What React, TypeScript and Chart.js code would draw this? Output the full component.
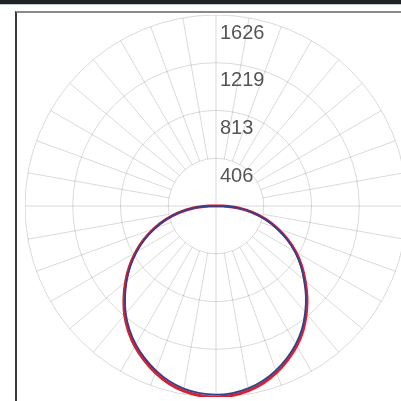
import React, { useEffect, useRef } from "react";
import { Chart, registerables } from "chart.js";

Chart.register(...registerables);

// gamma angles (deg from nadir) for each half-plane, 5 deg steps
const gammaAngles = [
  0, 5, 10, 15, 20, 25, 30, 35, 40, 45, 50, 55, 60, 65, 70, 75, 80, 85, 90,
  95, 100, 105, 110, 115, 120, 125, 130, 135, 140, 145, 150, 155, 160, 165, 170, 175, 180,
];
// red series: C0 (right half) and C180 (left half), cd
const redC0 = [
  1626, 1618, 1596, 1560, 1508, 1445, 1375, 1292, 1195, 1095, 990, 890, 785, 672, 555, 438, 315, 190, 60,
  10, 0, 0, 0, 0, 0, 0, 0, 0, 0, 0, 0, 0, 0, 0, 0, 0, 0,
];
const redC180 = [
  1626, 1619, 1598, 1562, 1510, 1448, 1380, 1300, 1210, 1108, 1005, 900, 790, 678, 560, 442, 320, 192, 60,
  10, 0, 0, 0, 0, 0, 0, 0, 0, 0, 0, 0, 0, 0, 0, 0, 0, 0,
];
// blue series: C90 (right half) and C270 (left half), cd
const blueC90 = [
  1606, 1599, 1577, 1541, 1490, 1428, 1358, 1277, 1181, 1082, 978, 879, 776, 664, 548, 433, 311, 188, 59,
  10, 0, 0, 0, 0, 0, 0, 0, 0, 0, 0, 0, 0, 0, 0, 0, 0, 0,
];
const blueC270 = [
  1606, 1600, 1579, 1543, 1492, 1431, 1363, 1284, 1195, 1095, 993, 889, 781, 670, 553, 437, 316, 190, 59,
  10, 0, 0, 0, 0, 0, 0, 0, 0, 0, 0, 0, 0, 0, 0, 0, 0, 0,
];
// tick labels
const tickValues = [406.5, 813, 1219.5, 1626];
const tickLabels = ["406", "813", "1219", "1626"];
const scaleMax = 1626;

// position angles clockwise from top, 5 deg steps
const positionAngles = Array.from({ length: 72 }, (_, i) => i * 5);

function buildRing(right: number[], left: number[]): number[] {
  return positionAngles.map((phi) => {
    if (phi <= 180) {
      return right[gammaAngles.indexOf(180 - phi)];
    }
    return left[gammaAngles.indexOf(phi - 180)];
  });
}

const gridPlugin = {
  id: "photoGrid",
  beforeDatasetsDraw(chart: any) {
    const s = chart.scales.r;
    const ctx = chart.ctx;
    const inner = s.getDistanceFromCenterForValue(tickValues[0]);
    const outer = s.getDistanceFromCenterForValue(scaleMax);
    ctx.save();
    ctx.strokeStyle = "rgba(0,0,0,0.15)";
    ctx.lineWidth = 1;
    for (let a = 0; a < 360; a += 10) {
      const rad = (a * Math.PI) / 180;
      const start = a % 90 === 0 ? 0 : inner;
      ctx.beginPath();
      ctx.moveTo(s.xCenter + Math.sin(rad) * start, s.yCenter - Math.cos(rad) * start);
      ctx.lineTo(s.xCenter + Math.sin(rad) * outer, s.yCenter - Math.cos(rad) * outer);
      ctx.stroke();
    }
    ctx.fillStyle = "#555";
    ctx.font = '20px "Liberation Sans", Arial, sans-serif';
    ctx.textAlign = "left";
    ctx.textBaseline = "middle";
    tickValues.forEach((v, i) => {
      const d = s.getDistanceFromCenterForValue(v);
      ctx.fillText(tickLabels[i], s.xCenter + 4, s.yCenter - d + 18);
    });
    ctx.restore();
  },
};

export default function App() {
  const ref = useRef<HTMLCanvasElement | null>(null);
  useEffect(() => {
    if (!ref.current) return;
    const chart = new Chart(ref.current, {
      type: "radar",
      data: {
        labels: positionAngles.map((a) => String(a)),
        datasets: [
          {
            label: "C90-C270",
            data: buildRing(blueC90, blueC270),
            borderColor: "#363f8c",
            borderWidth: 1.8,
            pointRadius: 0,
            fill: false,
            tension: 0.15,
          },
          {
            label: "C0-C180",
            data: buildRing(redC0, redC180),
            borderColor: "#d42232",
            borderWidth: 3,
            pointRadius: 0,
            fill: false,
            tension: 0.15,
          },
        ],
      },
      options: {
        responsive: false,
        animation: false,
        devicePixelRatio: 1,
        layout: { padding: 0 },
        plugins: { legend: { display: false }, tooltip: { enabled: false } },
        scales: {
          r: {
            min: 0,
            max: scaleMax,
            startAngle: 0,
            ticks: { display: false, stepSize: 406.5 },
            grid: { circular: true, color: "rgba(0,0,0,0.15)", lineWidth: 1 },
            angleLines: { display: false },
            pointLabels: { display: false },
          },
        },
      },
      plugins: [gridPlugin],
    });
    return () => chart.destroy();
  }, []);

  return (
    <div style={{ position: "fixed", left: 0, top: 0, width: 401, height: 401, overflow: "hidden", background: "#fff" }}>
      <div style={{ position: "absolute", left: 0, top: 0, width: 401, height: 4, background: "#1f2325" }} />
      <div style={{ position: "absolute", left: 0, top: 4, width: 401, height: 1, background: "#c8c8c8" }} />
      <div
        style={{
          position: "absolute",
          left: 15,
          top: 11,
          width: 400,
          height: 400,
          borderTop: "2px solid #8a8a8a",
          borderLeft: "2px solid #3a3a3a",
          boxSizing: "border-box",
        }}
      />
      <canvas
        ref={ref}
        width={382}
        height={382}
        style={{ position: "absolute", left: 25, top: 15, width: 382, height: 382 }}
      />
    </div>
  );
}
